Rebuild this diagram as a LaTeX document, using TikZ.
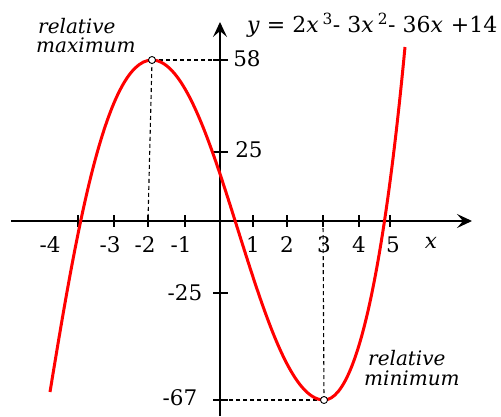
\documentclass[tikz,border=0pt]{standalone}
\usepackage{fontspec}
\setmainfont{DejaVu Serif}
\newfontfamily\notefont{DejaVu Serif}
\usetikzlibrary{arrows.meta}
\begin{document}
\begin{tikzpicture}[x=1pt,y=-1pt,
  axis/.style={line width=1.5pt, -{Stealth[length=15pt,width=14pt,inset=6pt]}},
  tickmark/.style={line width=2pt},
  guide/.style={line width=1.1pt, dash pattern=on 4pt off 3pt},
  curve/.style={red, line width=3pt, line join=round},
  num/.style={font=\fontsize{21.5}{21.5}\selectfont, inner sep=0pt},
  note/.style={font=\notefont\itshape\fontsize{20}{20}\selectfont, inner sep=0pt, anchor=base west},
  extremum/.style={circle, draw, fill=white, line width=0.9pt, minimum size=7pt, inner sep=0pt}]
\useasboundingbox (0,0) rectangle (501,416);
% axes
\coordinate (xl) at (11,221);
\coordinate (xr) at (472,221);
\coordinate (yb) at (220,416);
\coordinate (yt) at (220,22);
\draw[axis] (xl) -- (xr);
\draw[axis] (yb) -- (yt);
% x ticks
\foreach \px/\nm in {78/m4,114/m3,148/m2,185/m1,253/p1,287/p2,323/p3,359/p4,390/p5}{
  \coordinate (xt\nm) at (\px,221);
  \draw[tickmark] (\px,215) -- (\px,227);
}
% y ticks
\foreach \py/\nm in {60/a,152/b,293/c,400/d}{
  \coordinate (yt\nm) at (220,\py);
  \draw[tickmark] (213,\py) -- (228,\py);
}
% x labels
\node[num] (lm4) at (50,245) {-4};
\node[num] (lm3) at (110,245) {-3};
\node[num] (lm2) at (145,245) {-2};
\node[num] (lm1) at (181,245) {-1};
\node[num] (lp1) at (253,245) {1};
\node[num] (lp2) at (287,245) {2};
\node[num] (lp3) at (324,245) {3};
\node[num] (lp4) at (359,245) {4};
\node[num] (lp5) at (393,245) {5};
\node[num,font=\fontsize{21.5}{21.5}\selectfont\itshape] (lx) at (431,243) {x};
% y labels
\node[num] (l58) at (247,59) {58};
\node[num] (l25) at (249,150) {25};
\node[num] (lm25) at (185,293) {-25};
\node[num] (lm67) at (180,398) {-67};
% extrema
\coordinate (maxpt) at (152,60);
\coordinate (minpt) at (324,400);
\draw[guide] (maxpt) -- (yta);
\draw[guide] (maxpt) -- (xtm2);
\draw[guide] (minpt) -- (ytd);
\draw[guide] (minpt) -- (xtp3);
% curve
\coordinate (cstart) at (50,392);
\coordinate (cend) at (405,47);
\draw[curve] (cstart) .. controls (75,240) and (105,60) .. (maxpt)
  .. controls (217,60) and (259,400) .. (minpt)
  .. controls (364,400) and (390,206) .. (cend);
\node[extremum] (maxdot) at (maxpt) {};
\node[extremum] (mindot) at (minpt) {};
% notes
\node[note] (rel1) at (38,33) {relative};
\node[note] (max1) at (36,52) {maximum};
\node[note] (rel2) at (368,365) {relative};
\node[note] (min2) at (364,385) {minimum};
% equation
\node[num, font=\fontsize{22}{22}\selectfont, anchor=base west] (eq) at (247,32) {\textit{y} = 2\textit{x}\hspace{4pt}\textsuperscript{3}- 3\textit{x}\hspace{4pt}\textsuperscript{2}- 36\textit{x}\hspace{8pt}+14};
\end{tikzpicture}
\end{document}
